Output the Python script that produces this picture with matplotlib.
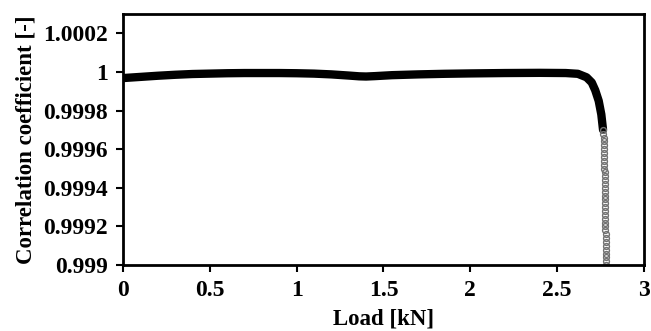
import matplotlib.pyplot as plt

# main (dense) part of the curve
load_main = [0.00, 0.10, 0.20, 0.30, 0.40, 0.50, 0.60, 0.70, 0.80, 0.90,
             1.00, 1.10, 1.20, 1.30, 1.36, 1.40, 1.45, 1.55, 1.70, 1.85, 2.00,
             2.20, 2.40, 2.55, 2.62, 2.67, 2.70, 2.72, 2.74, 2.755, 2.765]
coef_main = [0.999968, 0.999974, 0.999980, 0.999985, 0.999989, 0.999991, 0.999993,
             0.999994, 0.999994, 0.999994, 0.999993, 0.999991, 0.999987, 0.999981,
             0.999977, 0.999976, 0.999978, 0.999983, 0.999987, 0.999990, 0.999992,
             0.999994, 0.999995, 0.999994, 0.999990, 0.999972, 0.999945, 0.999905,
             0.999850, 0.999780, 0.999700]

# sparse open circles in the final drop
load_drop = [2.766, 2.767, 2.768, 2.769, 2.770, 2.771, 2.771, 2.772, 2.772, 2.773,
             2.773, 2.774, 2.774, 2.775, 2.775, 2.776, 2.776, 2.776, 2.777, 2.777,
             2.777, 2.778, 2.778, 2.778, 2.779, 2.779, 2.779, 2.780, 2.780, 2.780,
             2.780, 2.781, 2.781, 2.781, 2.781, 2.781]
coef_drop = [0.99970, 0.99968, 0.99966, 0.99964, 0.99962, 0.99960, 0.99958, 0.99956,
             0.99954, 0.99952, 0.99950, 0.99948, 0.99946, 0.99944, 0.99942, 0.99940,
             0.99938, 0.99936, 0.99934, 0.99932, 0.99930, 0.99928, 0.99926, 0.99924,
             0.99922, 0.99920, 0.99918, 0.99916, 0.99914, 0.99912, 0.99910, 0.99908,
             0.99906, 0.99904, 0.99902, 0.99900]

xticks = [0, 0.5, 1, 1.5, 2, 2.5, 3]
xlabels = ['0', '0.5', '1', '1.5', '2', '2.5', '3']
yticks = [0.999, 0.9992, 0.9994, 0.9996, 0.9998, 1.0, 1.0002]
ylabels = ['0.999', '0.9992', '0.9994', '0.9996', '0.9998', '1', '1.0002']

plt.rcParams['font.family'] = ['Liberation Serif', 'DejaVu Serif']
plt.rcParams['font.weight'] = 'bold'

fig = plt.figure(figsize=(6.51, 3.31), dpi=100)
ax = fig.add_axes([0.189, 0.199, 0.800, 0.759])

ax.plot(load_main, coef_main, color='black', lw=6, solid_capstyle='round',
        solid_joinstyle='round')
ax.plot(load_drop, coef_drop, 'o', ms=4.2, mfc='none', mec='#707070', mew=1.0)

ax.set_xlim(0, 3)
ax.set_ylim(0.999, 1.0003)
ax.set_xticks(xticks)
ax.set_xticklabels(xlabels)
ax.set_yticks(yticks)
ax.set_yticklabels(ylabels)

for s in ax.spines.values():
    s.set_linewidth(2)
ax.tick_params(direction='out', length=5, width=1.5, labelsize=17, pad=6)
for lab in ax.get_xticklabels() + ax.get_yticklabels():
    lab.set_fontweight('bold')

ax.set_xlabel('Load [kN]', fontsize=16.5, fontweight='bold', labelpad=5)
ax.set_ylabel('Correlation coefficient [-]', fontsize=16.5, fontweight='bold', labelpad=5)

fig.savefig('out.png', dpi=100)
